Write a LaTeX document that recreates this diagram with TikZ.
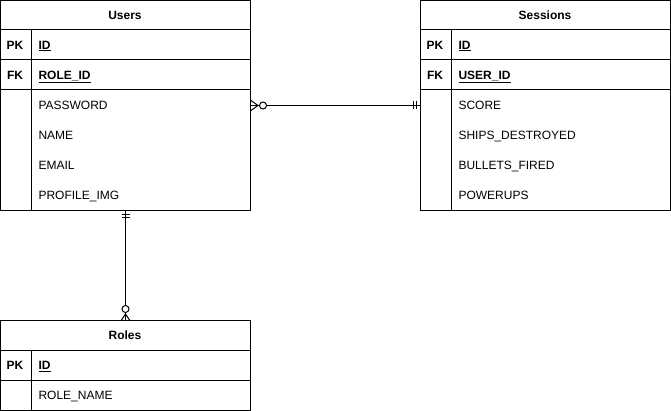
\documentclass[tikz,border=0pt]{standalone}
\usepackage{fontspec}
\setmainfont{Liberation Sans}
\usepackage{tikz}
\usetikzlibrary{calc}

\begin{document}
\begin{tikzpicture}[x=1pt, y=-1pt, line width=1pt,
  table node/.style={draw, minimum width=250pt, anchor=north west, inner sep=0},
  title node/.style={anchor=base, inner sep=0, yshift=-4.3pt, font=\fontsize{12}{14}\selectfont\bfseries},
  key node/.style={anchor=base, inner sep=0, yshift=-4.3pt, font=\fontsize{12}{14}\selectfont\bfseries},
  attr node/.style={anchor=base west, inner sep=0, yshift=-4.3pt, font=\fontsize{12}{14}\selectfont},
  zero node/.style={circle, draw, fill=white, inner sep=0, minimum size=7pt, line width=1pt}]
\useasboundingbox (0,0) rectangle (671,411);
% tables
\node[table node, minimum height=210pt] (users) at (0,0) {};
\node[table node, minimum height=210pt] (sessions) at (420,0) {};
\node[table node, minimum height=90pt] (roles) at (0,320) {};
\foreach \t in {0, 420}{
  \foreach \y in {30,60,90} \draw (\t,\y) -- (\t+250,\y);
  \draw (\t+31,30) -- (\t+31,210);
}
\draw (0,350) -- (250,350);
\draw (0,380) -- (250,380);
\draw (31,350) -- (31,410);
% users
\node[title node] (ut) at (125,15) {Users};
\node[key node] (uk1) at (15,45) {PK};
\node[key node] (uk2) at (15,75) {FK};
\node[attr node] (ua1) at (38,45) {\bfseries\underline{ID}};
\node[attr node] (ua2) at (38,75) {\bfseries\underline{ROLE\_ID}};
\node[attr node] (ua3) at (38,105) {PASSWORD};
\node[attr node] (ua4) at (38,135) {NAME};
\node[attr node] (ua5) at (38,165) {EMAIL};
\node[attr node] (ua6) at (38,195) {PROFILE\_IMG};
% sessions
\node[title node] (st) at (545,15) {Sessions};
\node[key node] (sk1) at (435,45) {PK};
\node[key node] (sk2) at (435,75) {FK};
\node[attr node] (sa1) at (458,45) {\bfseries\underline{ID}};
\node[attr node] (sa2) at (458,75) {\bfseries\underline{USER\_ID}};
\node[attr node] (sa3) at (458,105) {SCORE};
\node[attr node] (sa4) at (458,135) {SHIPS\_DESTROYED};
\node[attr node] (sa5) at (458,165) {BULLETS\_FIRED};
\node[attr node] (sa6) at (458,195) {POWERUPS};
% roles
\node[title node] (rt) at (125,335) {Roles};
\node[key node] (rk1) at (15,365) {PK};
\node[attr node] (ra1) at (38,365) {\bfseries\underline{ID}};
\node[attr node] (ra2) at (38,395) {ROLE\_NAME};
% users -- sessions
\draw (users.east) -- (sessions.west);
\draw ($(users.east)+(0,-5)$) -- ++(7,5) -- ++(-7,5);
\node[zero node] (uz) at ($(users.east)+(12,0)$) {};
\draw ($(sessions.west)+(-7,-4)$) -- ++(0,8);
\draw ($(sessions.west)+(-4,-4)$) -- ++(0,8);
% users -- roles
\draw (users.south) -- (roles.north);
\draw ($(users.south)+(-4,4)$) -- ++(8,0);
\draw ($(users.south)+(-4,7)$) -- ++(8,0);
\draw ($(roles.north)+(-4,0)$) -- ++(4,-6) -- ++(4,6);
\node[zero node] (rz) at ($(roles.north)+(0,-11)$) {};
\end{tikzpicture}
\end{document}
